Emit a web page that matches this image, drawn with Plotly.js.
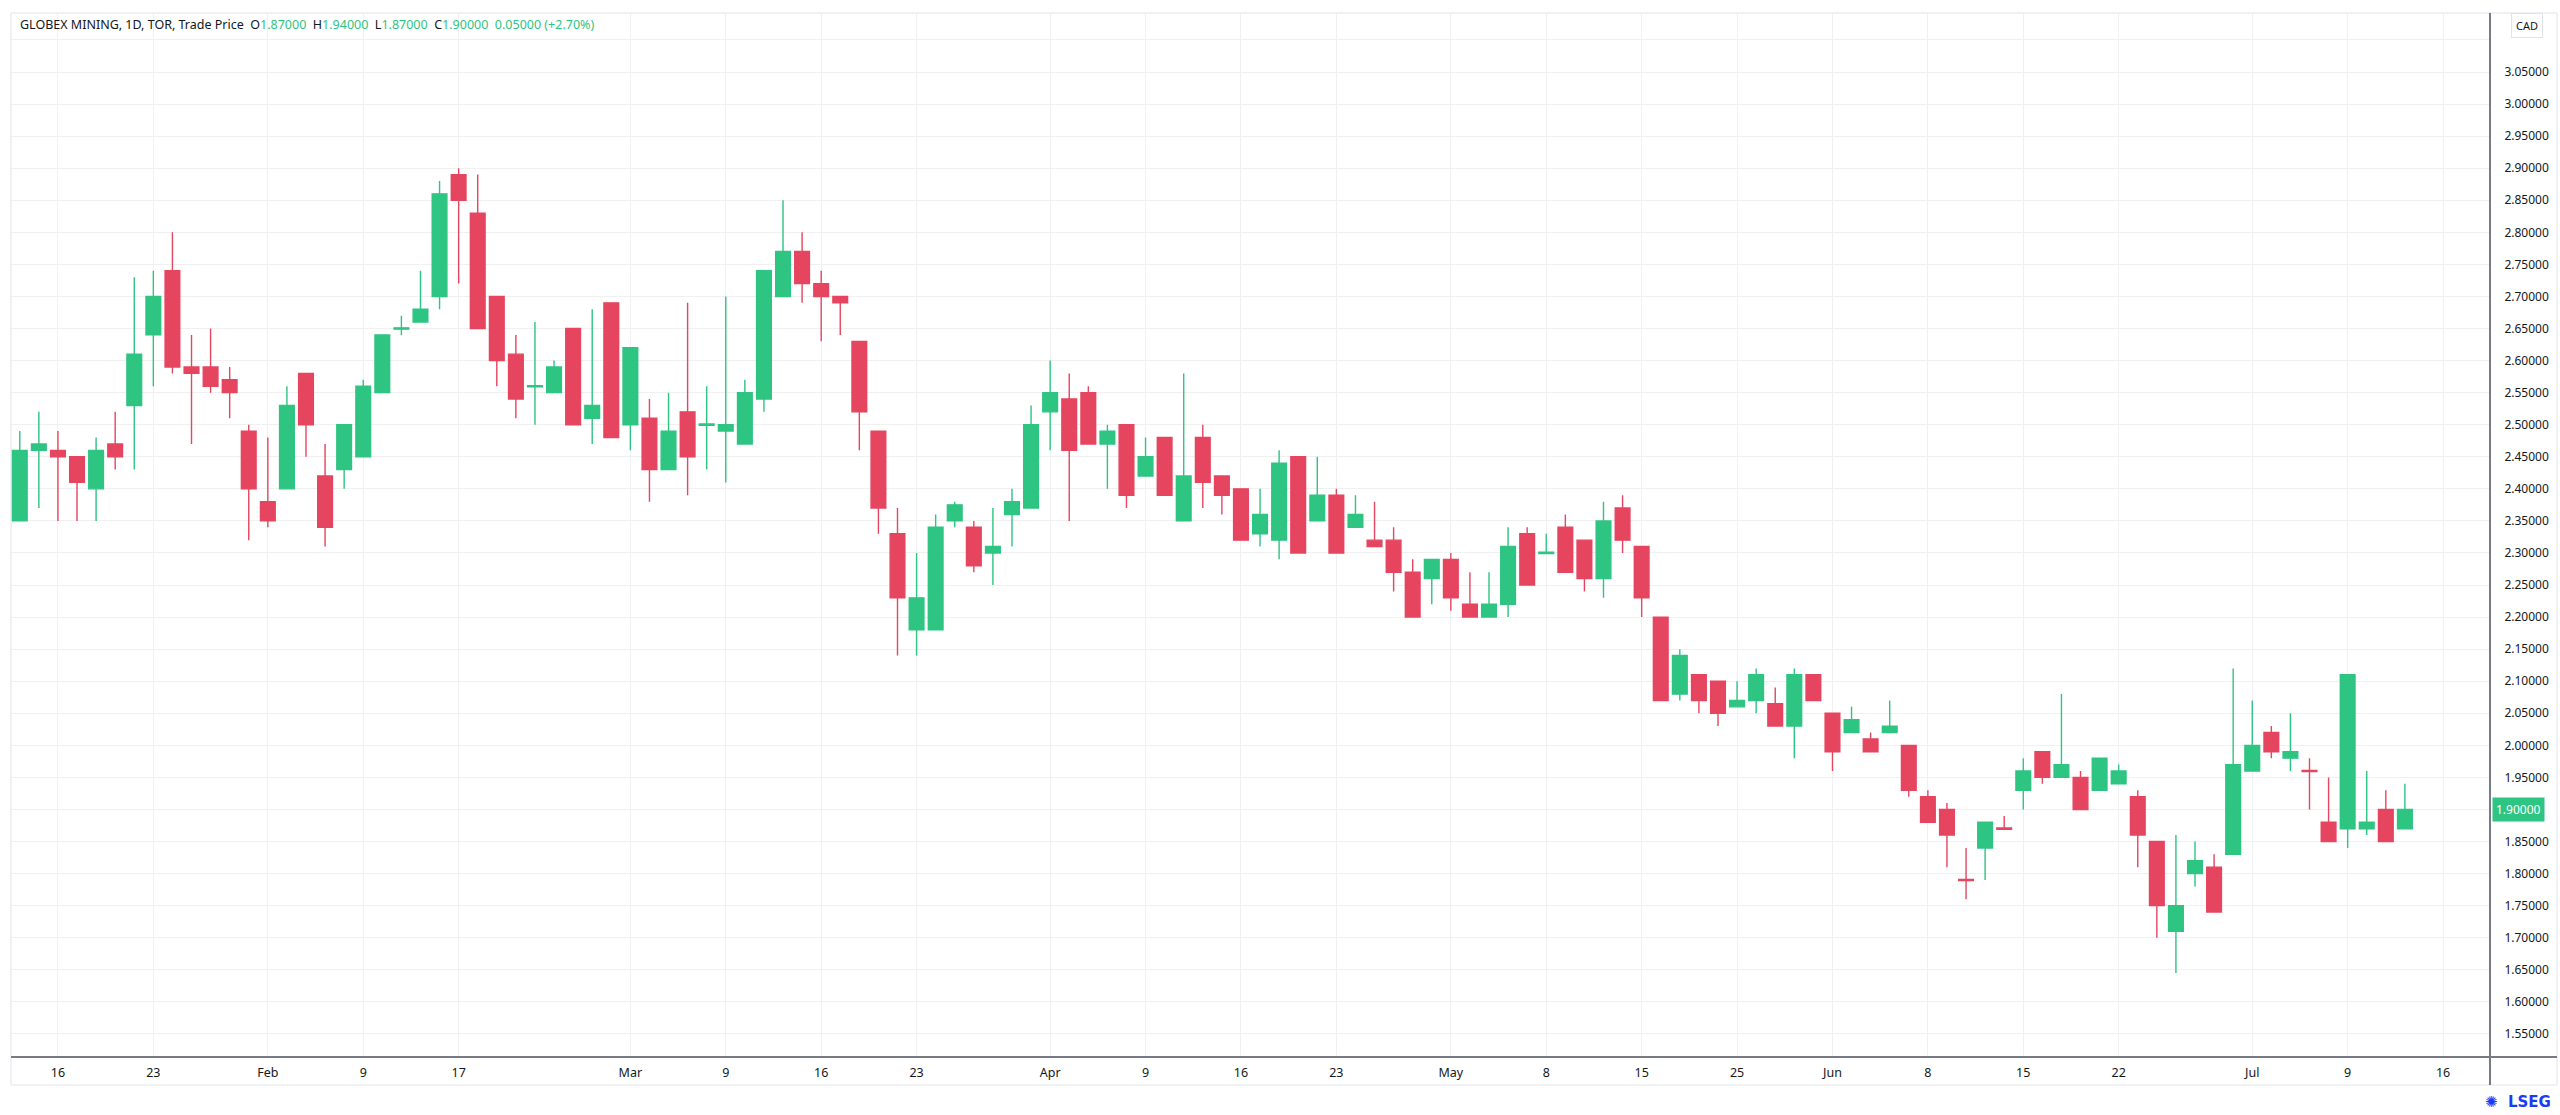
<!DOCTYPE html>
<html><head><meta charset="utf-8">
<script src="https://cdn.plot.ly/plotly-3.0.1.min.js"></script>
<style>html,body{margin:0;padding:0;background:#fff;overflow:hidden}#chart{width:2560px;height:1115px}</style>
</head><body><div id="chart"></div>
<script>
// ---- data (trading days, TOR, 2026) ----
const dates = ['2026-01-14','2026-01-15','2026-01-16','2026-01-19','2026-01-20','2026-01-21','2026-01-22','2026-01-23','2026-01-26','2026-01-27',
'2026-01-28','2026-01-29','2026-01-30','2026-02-02','2026-02-03','2026-02-04','2026-02-05','2026-02-06','2026-02-09','2026-02-10',
'2026-02-11','2026-02-12','2026-02-13','2026-02-17','2026-02-18','2026-02-19','2026-02-20','2026-02-23','2026-02-24','2026-02-25',
'2026-02-26','2026-02-27','2026-03-02','2026-03-03','2026-03-04','2026-03-05','2026-03-06','2026-03-09','2026-03-10','2026-03-11',
'2026-03-12','2026-03-13','2026-03-16','2026-03-17','2026-03-18','2026-03-19','2026-03-20','2026-03-23','2026-03-24','2026-03-25',
'2026-03-26','2026-03-27','2026-03-30','2026-03-31','2026-04-01','2026-04-02','2026-04-06','2026-04-07','2026-04-08','2026-04-09',
'2026-04-10','2026-04-13','2026-04-14','2026-04-15','2026-04-16','2026-04-17','2026-04-20','2026-04-21','2026-04-22','2026-04-23',
'2026-04-24','2026-04-27','2026-04-28','2026-04-29','2026-04-30','2026-05-01','2026-05-04','2026-05-05','2026-05-06','2026-05-07',
'2026-05-08','2026-05-11','2026-05-12','2026-05-13','2026-05-14','2026-05-15','2026-05-19','2026-05-20','2026-05-21','2026-05-22',
'2026-05-25','2026-05-26','2026-05-27','2026-05-28','2026-05-29','2026-06-01','2026-06-02','2026-06-03','2026-06-04','2026-06-05',
'2026-06-08','2026-06-09','2026-06-10','2026-06-11','2026-06-12','2026-06-15','2026-06-16','2026-06-17','2026-06-18','2026-06-19',
'2026-06-22','2026-06-23','2026-06-24','2026-06-25','2026-06-26','2026-06-29','2026-06-30','2026-07-02','2026-07-03','2026-07-06',
'2026-07-07','2026-07-08','2026-07-09','2026-07-10','2026-07-13','2026-07-14'];

const open = [2.35,2.46,2.46,2.45,2.40,2.47,2.53,2.64,2.74,2.59,
2.59,2.57,2.49,2.38,2.40,2.58,2.42,2.43,2.45,2.55,
2.649,2.66,2.70,2.89,2.83,2.70,2.61,2.559,2.55,2.65,
2.51,2.69,2.50,2.51,2.43,2.52,2.499,2.49,2.47,2.54,
2.70,2.77,2.72,2.70,2.63,2.49,2.33,2.18,2.18,2.35,
2.34,2.30,2.36,2.37,2.52,2.54,2.55,2.47,2.50,2.42,
2.48,2.35,2.48,2.42,2.40,2.33,2.32,2.45,2.35,2.39,
2.34,2.32,2.32,2.27,2.26,2.29,2.22,2.20,2.22,2.33,
2.299,2.34,2.32,2.26,2.37,2.31,2.20,2.08,2.11,2.10,
2.06,2.07,2.065,2.03,2.11,2.05,2.02,2.01,2.02,2.00,
1.92,1.90,1.791,1.84,1.871,1.93,1.99,1.95,1.95,1.93,
1.94,1.92,1.85,1.71,1.80,1.81,1.83,1.96,2.02,1.98,
1.961,1.88,1.87,1.87,1.90,1.87];

const high = [2.49,2.52,2.49,2.45,2.48,2.52,2.73,2.74,2.80,2.64,
2.65,2.59,2.50,2.48,2.56,2.58,2.47,2.50,2.57,2.64,
2.67,2.74,2.88,2.90,2.89,2.70,2.64,2.66,2.60,2.65,
2.68,2.69,2.62,2.54,2.55,2.69,2.56,2.70,2.57,2.74,
2.85,2.80,2.74,2.70,2.63,2.49,2.37,2.30,2.36,2.38,
2.35,2.37,2.40,2.53,2.60,2.58,2.56,2.50,2.50,2.48,
2.48,2.58,2.50,2.42,2.40,2.40,2.46,2.45,2.45,2.40,
2.39,2.38,2.34,2.29,2.29,2.30,2.27,2.27,2.34,2.34,
2.33,2.36,2.32,2.38,2.39,2.31,2.20,2.15,2.11,2.10,
2.10,2.12,2.09,2.12,2.11,2.05,2.06,2.02,2.07,2.00,
1.93,1.91,1.84,1.88,1.89,1.98,1.99,2.08,1.96,1.98,
1.97,1.93,1.85,1.86,1.85,1.83,2.12,2.07,2.03,2.05,
1.98,1.95,2.11,1.96,1.93,1.94];

const low = [2.35,2.37,2.35,2.35,2.35,2.43,2.43,2.56,2.58,2.47,
2.55,2.51,2.32,2.34,2.40,2.45,2.31,2.40,2.45,2.55,
2.64,2.66,2.68,2.72,2.65,2.56,2.51,2.50,2.55,2.50,
2.47,2.48,2.46,2.38,2.43,2.39,2.43,2.41,2.47,2.52,
2.70,2.69,2.63,2.64,2.46,2.33,2.14,2.14,2.18,2.34,
2.27,2.25,2.31,2.37,2.46,2.35,2.47,2.40,2.37,2.42,
2.39,2.35,2.37,2.36,2.32,2.31,2.29,2.30,2.35,2.30,
2.34,2.31,2.24,2.20,2.22,2.21,2.20,2.20,2.20,2.25,
2.299,2.27,2.24,2.23,2.30,2.20,2.07,2.07,2.05,2.03,
2.06,2.05,2.03,1.98,2.07,1.96,2.02,1.99,2.02,1.92,
1.88,1.81,1.76,1.79,1.869,1.90,1.94,1.95,1.90,1.93,
1.94,1.81,1.70,1.645,1.78,1.74,1.83,1.96,1.98,1.96,
1.90,1.85,1.84,1.86,1.85,1.87];

const close = [2.46,2.47,2.45,2.41,2.46,2.45,2.61,2.70,2.59,2.58,
2.56,2.55,2.40,2.35,2.53,2.50,2.34,2.50,2.56,2.64,
2.651,2.68,2.86,2.85,2.65,2.60,2.54,2.561,2.59,2.50,
2.53,2.48,2.62,2.43,2.49,2.45,2.501,2.50,2.55,2.74,
2.77,2.72,2.70,2.69,2.52,2.37,2.23,2.23,2.34,2.375,
2.28,2.31,2.38,2.50,2.55,2.46,2.47,2.49,2.39,2.45,
2.39,2.42,2.41,2.39,2.32,2.36,2.44,2.30,2.39,2.30,
2.36,2.31,2.27,2.20,2.29,2.23,2.20,2.22,2.31,2.25,
2.301,2.27,2.26,2.35,2.32,2.23,2.07,2.14,2.07,2.05,
2.07,2.11,2.03,2.11,2.07,1.99,2.04,1.99,2.03,1.93,
1.88,1.86,1.789,1.88,1.869,1.96,1.95,1.97,1.90,1.98,
1.96,1.86,1.75,1.75,1.82,1.74,1.97,2.00,1.99,1.99,
1.959,1.85,2.11,1.88,1.85,1.90];

const tickDates = ['2026-01-16','2026-01-23','2026-02-02','2026-02-09','2026-02-17','2026-03-02','2026-03-09','2026-03-16','2026-03-23',
'2026-04-01','2026-04-09','2026-04-16','2026-04-23','2026-05-01','2026-05-08','2026-05-15','2026-05-25','2026-06-01','2026-06-08',
'2026-06-15','2026-06-22','2026-07-02','2026-07-09','2026-07-16'];
const tickLabels = ['16','23','Feb','9','17','Mar','9','16','23','Apr','9','16','23','May','8','15','25','Jun','8','15','22','Jul','9','16'];
const priceTicks = [1.55,1.60,1.65,1.70,1.75,1.80,1.85,1.90,1.95,2.00,2.05,2.10,2.15,2.20,2.25,2.30,2.35,2.40,2.45,2.50,
2.55,2.60,2.65,2.70,2.75,2.80,2.85,2.90,2.95,3.00,3.05,3.10];
// 1.90 is shown by the last-price tag, 3.10 sits under the currency box
const priceTickLabels = ['1.55000','1.60000','1.65000','1.70000','1.75000','1.80000','1.85000','','1.95000','2.00000',
'2.05000','2.10000','2.15000','2.20000','2.25000','2.30000','2.35000','2.40000','2.45000','2.50000','2.55000','2.60000',
'2.65000','2.70000','2.75000','2.80000','2.85000','2.90000','2.95000','3.00000','3.05000',''];

// ---- helpers ----
function dateIndex(d){
  const i = dates.indexOf(d);
  if(i >= 0) return i;
  const cur = new Date(dates[dates.length-1]+'T00:00:00Z');
  const t = new Date(d+'T00:00:00Z');
  let n = dates.length-1;
  while(cur < t){ cur.setUTCDate(cur.getUTCDate()+1); const wd = cur.getUTCDay(); if(wd!==0 && wd!==6) n++; }
  return n;
}
const xIdx = dates.map((d,i)=>i);
const tickIdx = tickDates.map(dateIndex);

const G = '#2ec482', RD = '#e5455f';
const W = 2560, H = 1115, PL = 11, PR = 2490, PT = 13, PB = 1057;
const pw = PR-PL, ph = PB-PT;
const px = v => (v-PL)/pw, py = v => (PB-v)/ph;

const n = close.length;
const o = open[n-1], h = high[n-1], l = low[n-1], c = close[n-1], pc = close[n-2];
const chg = c - pc, pct = chg/pc*100;
const vs = s => '<span style="color:'+G+'">'+s+'</span>';
const sp = '\u00a0\u00a0';
const header = 'GLOBEX MINING, 1D, TOR, Trade Price'+sp+'O'+vs(o.toFixed(5))+sp+'H'+vs(h.toFixed(5))+sp+'L'+vs(l.toFixed(5))+sp+'C'+vs(c.toFixed(5))+sp+vs(chg.toFixed(5)+' (+'+pct.toFixed(2)+'%)');

const trace = {
  type:'candlestick', x:xIdx, open:open, high:high, low:low, close:close,
  increasing:{line:{color:G,width:1.4},fillcolor:G},
  decreasing:{line:{color:RD,width:1.4},fillcolor:RD},
  whiskerwidth:0, hoverinfo:'none', showlegend:false
};

const axisCol = '#787b86', gridCol = '#f0f0f0';
const layout = {
  width:W, height:H, margin:{l:PL, r:W-PR, t:PT, b:H-PB, pad:0},
  paper_bgcolor:'#ffffff', plot_bgcolor:'#ffffff',
  font:{family:'Noto Sans, Open Sans, sans-serif', color:'#131722', size:12},
  boxgap:0.23, boxgroupgap:0, showlegend:false, dragmode:false,
  xaxis:{range:[-0.46,129.46], tickmode:'array', tickvals:tickIdx, ticktext:tickLabels,
    showgrid:true, gridcolor:gridCol, gridwidth:1, zeroline:false, showline:false,
    ticks:'outside', ticklen:4, tickcolor:'rgba(0,0,0,0)',
    tickfont:{family:'Noto Sans, sans-serif', size:12.5, color:'#131722'},
    rangeslider:{visible:false}, fixedrange:true},
  yaxis:{side:'right', range:[1.514,3.142], tickmode:'array', tickvals:priceTicks, ticktext:priceTickLabels,
    showgrid:true, gridcolor:gridCol, gridwidth:1, zeroline:false, showline:false,
    ticks:'outside', ticklen:11, tickcolor:'rgba(0,0,0,0)',
    tickfont:{family:'Noto Sans, sans-serif', size:12, color:'#131722'}, fixedrange:true},
  shapes:[
    {type:'rect', xref:'paper', yref:'paper', x0:0, x1:px(2557), y0:py(1085), y1:1, line:{color:'#e0e3eb',width:1}, layer:'below'},
    {type:'line', xref:'paper', yref:'paper', x0:1, x1:1, y0:py(1085), y1:1, line:{color:axisCol,width:2}},
    {type:'line', xref:'paper', yref:'paper', x0:0, x1:px(2557), y0:0, y1:0, line:{color:axisCol,width:2}}
  ],
  annotations:[
    {xref:'paper', yref:'paper', x:px(18), y:py(25), xanchor:'left', yanchor:'middle', showarrow:false,
     text:header, font:{family:'Noto Sans, sans-serif', size:12.5, color:'#131722'}},
    {xref:'paper', yref:'paper', x:px(2527), y:py(26), xanchor:'center', yanchor:'middle', showarrow:false,
     text:'CAD', font:{family:'Noto Sans, sans-serif', size:11, color:'#131722'}, bgcolor:'#ffffff',
     bordercolor:'#e0e3eb', borderwidth:1, borderpad:4},
    {xref:'paper', yref:'y', x:px(2492), y:c, xanchor:'left', yanchor:'middle', showarrow:false,
     text:c.toFixed(5), font:{family:'Noto Sans, sans-serif', size:12, color:'#ffffff'}, bgcolor:G, borderpad:3},
    {xref:'paper', yref:'paper', x:px(2553), y:py(1102), xanchor:'right', yanchor:'middle', showarrow:false,
     text:'<b>LSEG</b>', font:{family:'DejaVu Sans, sans-serif', size:15, color:'#1a3cf5'}},
    {xref:'paper', yref:'paper', x:px(2500), y:py(1102), xanchor:'right', yanchor:'middle', showarrow:false,
     text:'✺', font:{family:'DejaVu Sans, sans-serif', size:15, color:'#1a3cf5'}}
  ]
};

Plotly.newPlot('chart',[trace],layout,{staticPlot:true, displayModeBar:false});
</script>
</body></html>
